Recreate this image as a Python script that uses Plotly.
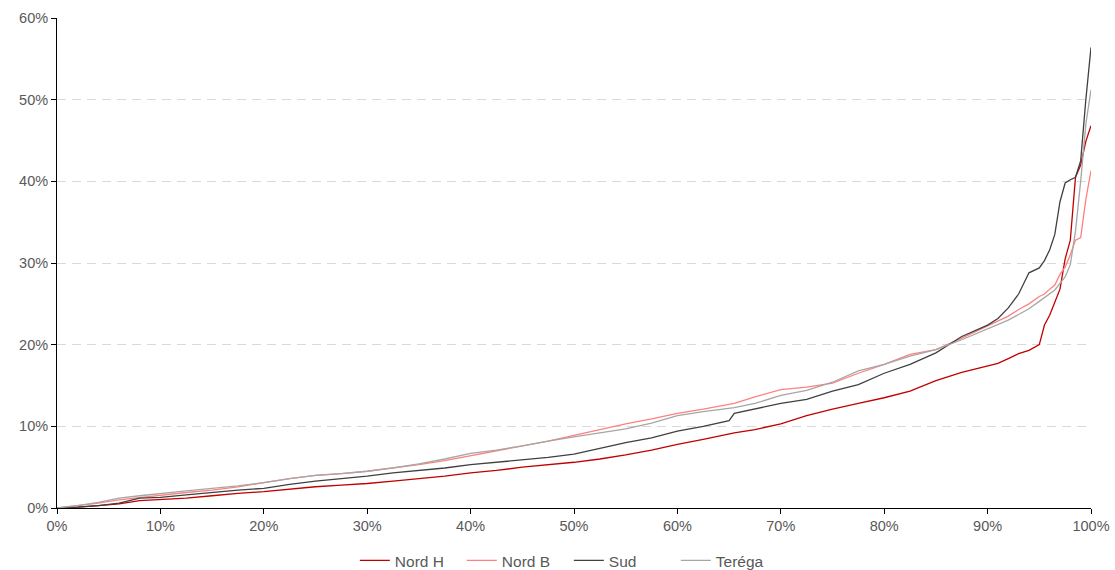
import plotly.graph_objects as go

x = [0, 2, 4, 6, 8, 10, 12.5, 15, 17.5, 20, 22.5, 25, 27.5, 30, 32.5, 35, 37.5, 40,
     42.5, 45, 47.5, 50, 52.5, 55, 57.5, 60, 62.5, 65, 65.5, 67.5, 70, 72.5, 75, 77.5,
     80, 82.5, 85, 87.5, 90, 91, 92, 93, 94, 95, 95.5, 96, 96.5, 97, 97.5, 98, 98.5,
     99, 99.5, 100]

nord_h = [0, 0.1, 0.3, 0.5, 0.9, 1.0, 1.2, 1.5, 1.8, 2.0, 2.3, 2.6, 2.8, 3.0, 3.3, 3.6,
          3.9, 4.3, 4.6, 5.0, 5.3, 5.6, 6.0, 6.5, 7.1, 7.8, 8.4, 9.1, 9.2, 9.6, 10.3, 11.3,
          12.1, 12.8, 13.5, 14.3, 15.6, 16.6, 17.4, 17.7, 18.3, 18.9, 19.3, 20.0, 22.4,
          23.6, 25.2, 26.8, 30.5, 32.8, 40.5, 42.0, 44.9, 46.8]

nord_b = [0, 0.3, 0.6, 1.0, 1.3, 1.6, 1.9, 2.2, 2.6, 3.1, 3.6, 4.0, 4.2, 4.5, 4.9, 5.3,
          5.8, 6.4, 7.0, 7.6, 8.2, 8.9, 9.6, 10.3, 10.9, 11.6, 12.1, 12.7, 12.8, 13.6, 14.5,
          14.8, 15.3, 16.5, 17.6, 18.8, 19.4, 20.8, 22.3, 22.9, 23.5, 24.3, 25.0, 25.9,
          26.2, 26.8, 27.3, 28.6, 29.5, 31.0, 32.8, 33.1, 37.8, 41.3]

sud = [0, 0.1, 0.3, 0.6, 1.2, 1.3, 1.6, 1.9, 2.2, 2.4, 2.9, 3.3, 3.6, 3.9, 4.3, 4.6,
       4.9, 5.3, 5.6, 5.9, 6.2, 6.6, 7.3, 8.0, 8.6, 9.4, 10.0, 10.7, 11.6, 12.1, 12.8,
       13.3, 14.3, 15.1, 16.5, 17.6, 19.0, 21.0, 22.4, 23.2, 24.5, 26.2, 28.8, 29.4,
       30.3, 31.6, 33.5, 37.5, 39.8, 40.2, 40.5, 42.5, 50.0, 56.4]

terega = [0, 0.3, 0.7, 1.2, 1.5, 1.8, 2.1, 2.4, 2.7, 3.1, 3.6, 4.0, 4.2, 4.5, 4.9, 5.4,
          6.0, 6.7, 7.1, 7.6, 8.2, 8.7, 9.2, 9.7, 10.4, 11.3, 11.8, 12.2, 12.3, 12.8, 13.8,
          14.4, 15.4, 16.8, 17.6, 18.6, 19.4, 20.6, 21.9, 22.5, 23.0, 23.7, 24.4, 25.3,
          25.8, 26.3, 26.7, 27.5, 28.3, 29.8, 33.9, 40.0, 47.0, 51.2]

x_ticks = list(range(0, 101, 10))
y_ticks = list(range(0, 61, 10))
x_tick_labels = [f"{v}%" for v in x_ticks]
y_tick_labels = [f"{v}%" for v in y_ticks]

series = [
    ("Nord H", nord_h, "#C00000"),
    ("Nord B", nord_b, "#FF8080"),
    ("Sud", sud, "#404040"),
    ("Teréga", terega, "#A6A6A6"),
]

fig = go.Figure()
for name, ys, color in series:
    fig.add_trace(go.Scatter(
        x=x, y=ys, name=name, mode="lines",
        line=dict(color=color, width=1.3),
    ))

tick_font = dict(family="Liberation Sans, Arial, sans-serif", size=14.5, color="#595959")
legend_font = dict(family="Liberation Sans, Arial, sans-serif", size=15.5, color="#595959")

fig.update_layout(
    width=1115, height=570,
    margin=dict(l=57, r=24, t=18, b=62),
    paper_bgcolor="white", plot_bgcolor="white",
    font=tick_font,
    showlegend=True,
    legend=dict(orientation="h", x=0.495, xanchor="center",
                yref="container", y=0.016, yanchor="middle",
                entrywidth=62, entrywidthmode="pixels", itemwidth=30,
                font=legend_font, traceorder="normal"),
)
fig.update_xaxes(
    range=[0, 100], tickmode="array", tickvals=x_ticks, ticktext=x_tick_labels,
    showgrid=False, zeroline=False, automargin=False,
    showline=True, linecolor="black", linewidth=1,
    ticks="outside", ticklen=5, tickcolor="black",
    tickfont=tick_font,
)
fig.update_yaxes(
    range=[0, 60], tickmode="array", tickvals=y_ticks, ticktext=y_tick_labels,
    showgrid=True, gridcolor="#D9D9D9", gridwidth=1, griddash="9px,6px",
    zeroline=False, automargin=False,
    showline=True, linecolor="black", linewidth=1,
    ticks="outside", ticklen=5, tickcolor="black",
    tickfont=tick_font,
)

fig.write_html(
    "out.html",
    config={"responsive": False, "displayModeBar": False},
    post_script="document.body.style.margin='0';document.body.style.padding='0';",
)
